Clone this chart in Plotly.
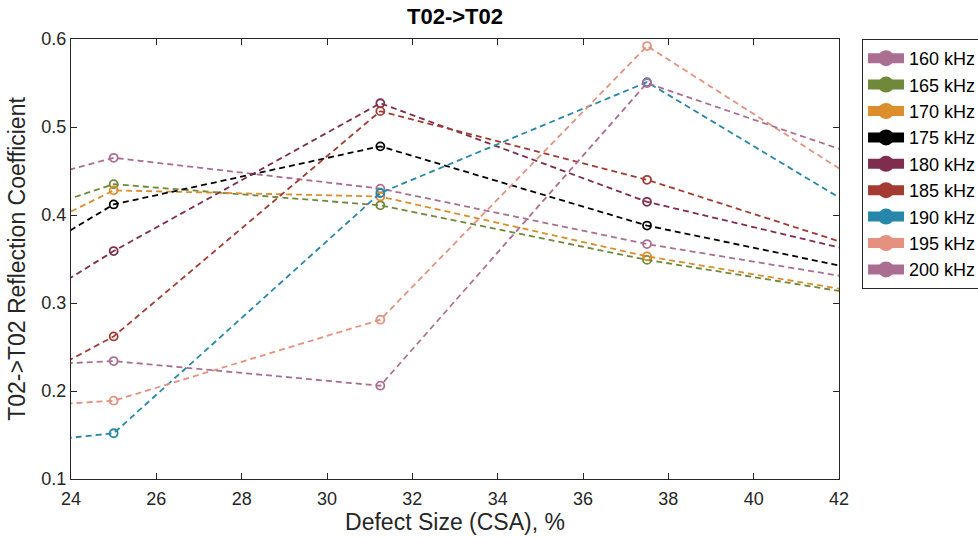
import plotly.graph_objects as go

# Defect sizes (% cross-sectional area); outer points lie beyond the visible range
defect_size = [18.75, 25, 31.25, 37.5, 43.75]

frequencies = ["160 kHz", "165 kHz", "170 kHz", "175 kHz", "180 kHz",
               "185 kHz", "190 kHz", "195 kHz", "200 kHz"]

refl_160 = [0.384, 0.465, 0.430, 0.367, 0.317]
refl_165 = [0.335, 0.435, 0.411, 0.349, 0.300]
refl_170 = [0.278, 0.428, 0.421, 0.353, 0.302]
refl_175 = [0.231, 0.412, 0.478, 0.388, 0.325]
refl_180 = [0.171, 0.359, 0.527, 0.415, 0.343]
refl_185 = [0.100, 0.262, 0.518, 0.440, 0.343]
refl_190 = [0.120, 0.152, 0.425, 0.551, 0.369]
refl_195 = [0.170, 0.189, 0.281, 0.592, 0.399]
refl_200 = [0.220, 0.234, 0.206, 0.550, 0.446]

series = [refl_160, refl_165, refl_170, refl_175, refl_180,
          refl_185, refl_190, refl_195, refl_200]

colors = ["#AB6E93", "#6F883A", "#DC8E2C", "#000000", "#7E2D4E",
          "#A33B32", "#2687AA", "#E6917F", "#AB6E93"]

FONT = "Liberation Sans, Arial, Helvetica, sans-serif"
INK = "#262626"

fig = go.Figure()

# Dashed curves with open circle markers
for name, vals, col in zip(frequencies, series, colors):
    fig.add_trace(go.Scatter(
        x=defect_size, y=vals, name=name, mode="lines+markers",
        line=dict(color=col, width=1.8, dash="6px,4px"),
        marker=dict(symbol="circle-open", size=8, color=col,
                    line=dict(color=col, width=1.8)),
        showlegend=False, hoverinfo="skip",
    ))

# Legend entries drawn as thick solid swatches with a filled dot
for name, col in zip(frequencies, colors):
    fig.add_trace(go.Scatter(
        x=[None], y=[None], name=name, mode="lines+markers",
        line=dict(color=col, width=12),
        marker=dict(symbol="circle", size=16, color=col),
        showlegend=True,
    ))

axis_common = dict(
    showline=True, linecolor=INK, linewidth=1, mirror="ticks",
    ticks="inside", ticklen=6, tickcolor=INK, tickwidth=1,
    showgrid=False, zeroline=False,
    tickfont=dict(family=FONT, size=18, color=INK),
)

fig.update_layout(
    width=978, height=538,
    margin=dict(l=71, r=139, t=39, b=59, autoexpand=False),
    paper_bgcolor="white", plot_bgcolor="white",
    font=dict(family=FONT, color=INK),
    title=dict(text="<b>T02->T02</b>", x=0.5, xref="paper", xanchor="center",
               y=1, yref="container", yanchor="top", pad=dict(t=9),
               font=dict(family=FONT, size=22, color="#000000")),
    xaxis=dict(range=[24, 42], tickvals=list(range(24, 43, 2)),
               ticklabelstandoff=3,
               title=dict(text="Defect Size (CSA), %", standoff=6,
                          font=dict(family=FONT, size=23, color=INK)),
               **axis_common),
    yaxis=dict(range=[0.1, 0.6], tickvals=[0.1, 0.2, 0.3, 0.4, 0.5, 0.6],
               tickformat=".1f",
               title=dict(text="T02->T02 Reflection Coefficient", standoff=9,
                          font=dict(family=FONT, size=23, color=INK)),
               **axis_common),
    legend=dict(x=1.03, xanchor="left", y=1.0, yanchor="top",
                bgcolor="white", bordercolor=INK, borderwidth=1,
                font=dict(family=FONT, size=18, color="#000000"),
                itemwidth=36, tracegroupgap=0),
    showlegend=True,
)

fig.write_html("out.html")
